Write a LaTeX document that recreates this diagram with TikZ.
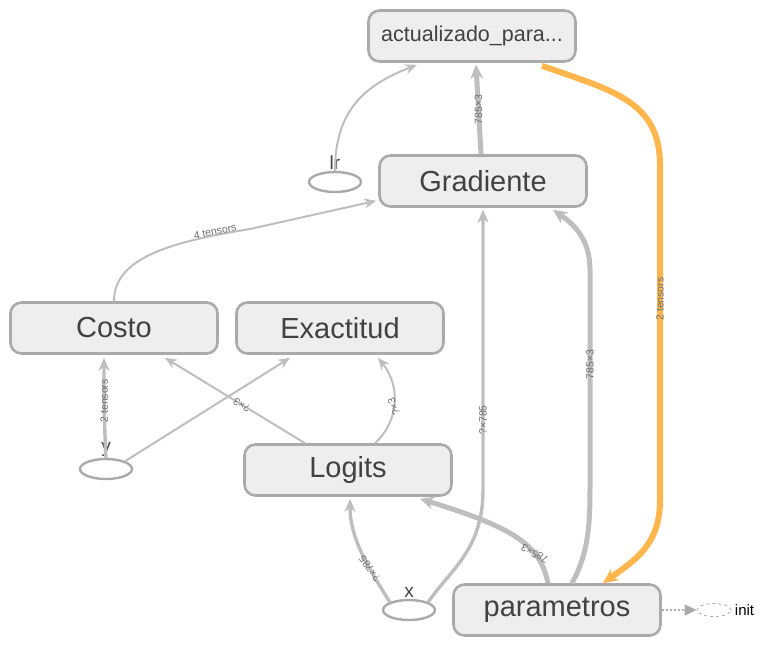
\documentclass[tikz,border=0pt]{standalone}
\usepackage{fontspec}
\setmainfont{Liberation Sans}
\usepackage{tikz}
\usetikzlibrary{arrows.meta,shapes.geometric,calc}
\definecolor{boxfill}{RGB}{238,238,238}
\definecolor{boxline}{RGB}{170,170,170}
\definecolor{edgegray}{RGB}{190,190,190}
\definecolor{txtgray}{RGB}{66,66,66}
\definecolor{lblgray}{RGB}{110,110,110}
\definecolor{refedge}{RGB}{255,183,77}
\tikzset{
  opbox/.style    = {draw=boxline,fill=boxfill,line width=2.6pt,rounded corners=11pt,
                     minimum width=207pt,minimum height=51pt,text=txtgray,font=\fontsize{29}{31}\selectfont},
  varell/.style   = {ellipse,draw=boxline,line width=2.4pt,minimum width=52pt,minimum height=20pt,inner sep=0pt},
  varlbl/.style   = {text=txtgray,font=\fontsize{19}{21}\selectfont,inner sep=1pt},
  thinarr/.style  = {-{Stealth[length=12pt,width=10pt]},draw=edgegray,line width=2pt},
  midarr/.style   = {-{Stealth[length=13pt,width=11pt]},draw=edgegray,line width=3.4pt},
  fatarr/.style   = {-{Stealth[length=14pt,width=13pt]},draw=edgegray,line width=5pt},
  refarr/.style   = {-{Stealth[length=15pt,width=14pt]},draw=refedge,line width=6pt},
  elbl/.style     = {text=lblgray,font=\fontsize{10.5}{11}\selectfont,inner sep=0pt}
}
\begin{document}
\begin{tikzpicture}[x=1pt,y=-1pt]
  \useasboundingbox (0,0) rectangle (767,654);
  \node[opbox,font=\fontsize{21.5}{23}\selectfont] (act) at (472,36) {actualizado\_para...};
  \node[opbox] (grad)   at (483,181) {Gradiente};
  \node[opbox] (costo)  at (114,328) {Costo};
  \node[opbox] (exact)  at (340,328) {Exactitud};
  \node[opbox] (logits) at (348,470) {Logits};
  \node[opbox] (param)  at (557,610) {parametros};
  \node[varell,label={[varlbl]above:lr}] (lr) at (335,182) {};
  \node[varell,label={[varlbl]above:y}]  (y)  at (106,469) {};
  \node[varell,label={[varlbl]above:x}]  (x)  at (409,610) {};
  \node[ellipse,draw=boxline,dashed,line width=0.8pt,minimum width=34pt,minimum height=13pt,
        inner sep=0pt,label={[text=black,font=\fontsize{15}{17}\selectfont]right:init}] (init) at (714,610) {};

  \draw[thinarr] (lr.north) .. controls (335,110) and (365,85) .. ($(act.south)+(-55,2)$);
  \draw[fatarr] ($(grad.north)+(-2,0)$) -- ($(act.south)+(4,2)$)
        node[elbl,midway,rotate=90] {785×3};
  \draw[refarr] ($(act.south)+(70,3)$) .. controls (610,90) and (660,100) .. (660,165)
        -- (660,500) node[elbl,pos=0.4,rotate=90] {2 tensors}
        .. controls (660,545) and (635,560) .. ($(param.north)+(46,0)$);
  \draw[thinarr] (costo.north) .. controls (114,258) and (170,242) .. (250,229)
        node[elbl,pos=0.85,rotate=11,above=-1pt] {4 tensors}
        -- ($(grad.south west)+(-2,-7)$);
  \draw[midarr] (y.north) .. controls (104,420) and (104,390) .. ($(costo.south)+(-10,3)$)
        node[elbl,pos=0.55,rotate=90] {2 tensors};
  \draw[thinarr] (y.north east) -- ($(exact.south)+(-50,3)$);
  \draw[thinarr] ($(logits.north)+(-43,0)$) -- ($(costo.south)+(51,3)$)
        node[elbl,pos=0.45,rotate=149] {?×3};
  \draw[thinarr] ($(logits.north)+(27,0)$) .. controls (400,420) and (400,385) .. ($(exact.south)+(38,3)$)
        node[elbl,pos=0.45,rotate=110] {?×3};
  \draw[midarr] (x.north west) .. controls (370,570) and (350,540) .. ($(logits.south)+(2,2)$)
        node[elbl,pos=0.35,rotate=125] {?×785};
  \draw[midarr] (x.north east) .. controls (450,570) and (483,550) .. (483,490)
        -- ($(grad.south)+(0,2)$) node[elbl,pos=0.25,rotate=90] {?×785};
  \draw[fatarr] ($(param.north)+(-9,0)$) .. controls (540,545) and (515,528) .. ($(logits.south)+(72,2)$)
        node[elbl,pos=0.3,rotate=150] {785×3};
  \draw[fatarr] ($(param.north)+(15,0)$) .. controls (590,550) and (590,520) .. (590,480)
        -- (590,270) node[elbl,pos=0.55,rotate=90] {785×3}
        .. controls (590,240) and (575,225) .. ($(grad.south)+(70,2)$);
  \draw[-{Triangle[length=12pt,width=11pt]},draw=boxline,fill=boxline,dotted,line width=2pt]
        (param.east) -- (init.west);
\end{tikzpicture}
\end{document}
